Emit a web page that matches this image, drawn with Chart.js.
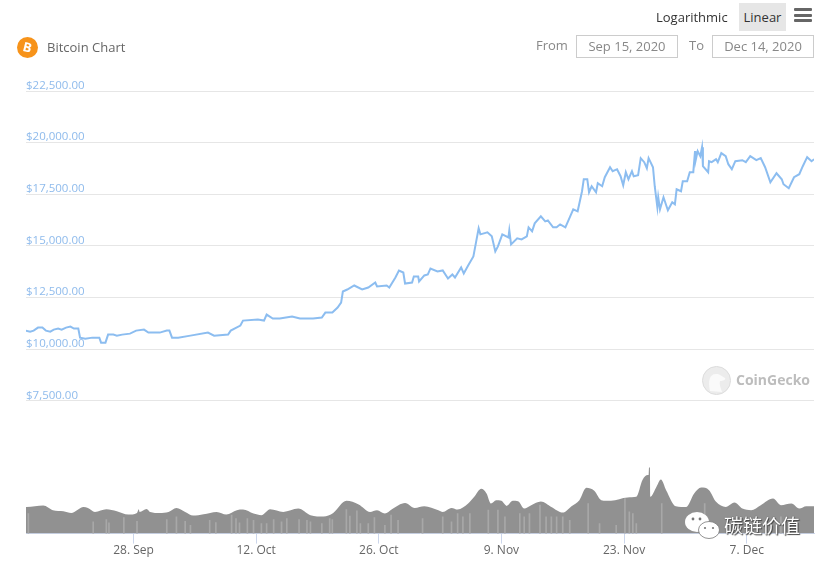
<!DOCTYPE html>
<html lang="en">
<head>
  <meta charset="UTF-8" />
  <title>Bitcoin Chart</title>
  <script src="https://cdn.jsdelivr.net/npm/chart.js"></script>
  <style>
    html, body { margin: 0; padding: 0; background: #fff; }
    body { width: 830px; height: 562px; position: relative; overflow: hidden; font-family: "Open Sans", sans-serif; }
    #chartBox { position: absolute; left: 0; top: 0; width: 830px; height: 562px; }
    .lbl { position: absolute; white-space: nowrap; font-size: 13px; line-height: 18px; }
    .dateBox { position: absolute; top: 35px; height: 21px; width: 100px; border: 1px solid #ccc; color: #888; font-size: 13px; line-height: 21px; text-align: center; }
    #linearBtn { position: absolute; left: 739px; top: 3px; width: 47px; height: 28px; background: #e6e6e6; color: #333; font-size: 13px; line-height: 28px; text-align: center; }
    .bar { position: absolute; left: 794px; width: 18px; height: 3.4px; background: #666; border-radius: 1px; }
    #btcIcon { position: absolute; left: 17px; top: 37px; width: 21px; height: 21px; border-radius: 50%; background: #f7931a; color: #fff; font: bold 13px/21px "Open Sans", sans-serif; text-align: center; }
    #btcIcon span { display: inline-block; transform: rotate(14deg); }
    #geckoIcon { position: absolute; left: 702px; top: 366px; }
    #geckoText { position: absolute; left: 736px; top: 370px; color: #bdbdbd; font: bold 14px/20px "Open Sans", sans-serif; }
    #wmText { position: absolute; left: 724px; top: 512px; color: #fff; font: 19px/26px "Noto Sans CJK SC", sans-serif; text-shadow: 0 0 1px #333, 1px 1px 1px #444; }
    #wmIcon { position: absolute; left: 684px; top: 511px; }
  </style>
</head>
<body>
  <div id="chartBox"><canvas id="btcChart" width="830" height="562"></canvas></div>

  <div class="lbl" style="left:656px;top:8px;color:#333;">Logarithmic</div>
  <div id="linearBtn">Linear</div>
  <div class="bar" style="top:8px;"></div>
  <div class="bar" style="top:13.5px;"></div>
  <div class="bar" style="top:19px;"></div>

  <div id="btcIcon"><span>B</span></div>
  <div class="lbl" style="left:47px;top:38px;color:#666;">Bitcoin Chart</div>
  <div class="lbl" style="left:536px;top:36px;color:#888;">From</div>
  <div class="dateBox" style="left:576px;">Sep 15, 2020</div>
  <div class="lbl" style="left:689px;top:36px;color:#888;">To</div>
  <div class="dateBox" style="left:712px;">Dec 14, 2020</div>

  <svg id="geckoIcon" width="29" height="29" viewBox="0 0 29 29">
    <circle cx="14.5" cy="14.5" r="14" fill="#ececec" stroke="#dcdcdc" />
    <path d="M8 25 C6 16 7 8 14 8 C18 8 19 10 23 12 C24 14 21 15 18 15 C17 19 19 22 20 26 Z" fill="#fafafa" />
  </svg>
  <div id="geckoText">CoinGecko</div>

  <svg id="wmIcon" width="38" height="30" viewBox="0 0 38 30">
    <ellipse cx="13" cy="11" rx="12" ry="10" fill="#fff" />
    <ellipse cx="25" cy="19" rx="10.5" ry="8.5" fill="#fff" stroke="#777" stroke-width="0.8" />
    <circle cx="9" cy="8" r="1.4" fill="#777" /><circle cx="16" cy="8" r="1.4" fill="#777" />
    <circle cx="21" cy="17" r="1.1" fill="#777" /><circle cx="29" cy="17" r="1.1" fill="#777" />
  </svg>
  <div id="wmText">碳链价值</div>

  <script>
    // days counted from 15 Sep 2020
    const tickDays = [13, 27, 41, 55, 69, 83];
    const tickLabels = ['28. Sep', '12. Oct', '26. Oct', '9. Nov', '23. Nov', '7. Dec'];
    const priceTicks = [7500, 10000, 12500, 15000, 17500, 20000, 22500];

    const priceDays = [
      0.7, 1.2, 1.6, 2.1, 2.6, 3.0, 3.5, 3.9, 4.4, 4.8,
      5.3, 5.8, 6.2, 6.7, 6.9, 7.5, 8.3, 9.1, 9.3, 9.8,
      10.1, 10.7, 11.1, 11.7, 12.6, 13.3, 14.2, 14.7, 15.5, 16.0,
      16.8, 17.1, 17.4, 18.1, 19.5, 21.5, 22.2, 23.8, 24.1, 25.2,
      25.5, 27.2, 27.9, 28.2, 28.9, 29.7, 31.1, 32.0, 33.5, 34.5,
      34.9, 35.7, 36.3, 36.7, 36.9, 37.4, 38.2, 39.1, 39.8, 40.6,
      40.8, 41.9, 42.2, 42.9, 43.3, 43.8, 44.0, 44.8, 45.0, 45.5,
      45.6, 46.2, 46.6, 46.9, 47.7, 48.3, 48.9, 49.4, 49.7, 50.4,
      50.7, 51.2, 51.8, 52.1, 52.4, 52.6, 53.4, 53.9, 54.3, 54.6,
      55.1, 55.8, 55.9, 56.1, 56.8, 57.3, 57.9, 58.1, 58.5, 58.8,
      59.5, 60.0, 60.3, 60.9, 61.3, 61.7, 62.3, 62.8, 63.2, 63.7,
      64.2, 64.4, 64.8, 65.0, 65.3, 65.8, 66.0, 66.5, 66.8, 67.4,
      67.7, 68.2, 68.6, 68.9, 69.2, 69.5, 69.9, 70.1, 70.6, 70.9,
      71.3, 71.6, 71.8, 72.3, 72.5, 72.8, 72.9, 73.1, 73.5, 74.0,
      74.5, 74.8, 75.0, 75.5, 75.7, 76.2, 76.5, 76.9, 77.1, 77.2,
      77.4, 77.7, 77.9, 78.0, 78.6, 78.7, 79.0, 79.5, 79.7, 80.1,
      80.6, 80.9, 81.3, 81.7, 82.5, 82.9, 83.4, 84.1, 84.6, 85.1,
      85.7, 86.4, 87.0, 87.2, 87.8, 88.4, 89.0, 89.4, 89.9, 90.4,
      90.7
    ];
    const priceValues = [
      10898, 10849, 10898, 11044, 11044, 10898, 10849, 10947, 10995, 10947,
      11044, 11092, 10995, 10995, 10558, 10510, 10558, 10558, 10315, 10315,
      10704, 10704, 10655, 10704, 10752, 10898, 10947, 10801, 10801, 10801,
      10898, 10898, 10558, 10558, 10655, 10801, 10655, 10704, 10898, 11141,
      11383, 11432, 11383, 11675, 11480, 11480, 11578, 11480, 11480, 11529,
      11772, 11772, 12014, 12257, 12791, 12888, 13082, 12888, 12985, 13228,
      13034, 13082, 12985, 13471, 13810, 13713, 13179, 13228, 13519, 13519,
      13276, 13568, 13616, 13907, 13762, 13810, 13422, 13616, 13471, 13956,
      13665, 14053, 14490, 15170, 15849, 15558, 15655, 15461, 14733, 14975,
      15558, 15412, 15752, 15073, 15364, 15315, 15461, 15898, 15704, 16092,
      16431, 16189, 16237, 15898, 15898, 16043, 15898, 16383, 16771, 16674,
      17645, 18228, 18228, 17597, 17888, 17597, 18033, 17888, 18325, 18810,
      18616, 18713, 18373, 17936, 18568, 18228, 18616, 18373, 18422, 19247,
      19053, 18762, 19247, 18810, 17888, 16868, 17354, 16771, 17354, 16723,
      17111, 17014, 17742, 17645, 18130, 18130, 18568, 18568, 19587, 19199,
      19587, 19344, 19781, 18859, 18568, 19101, 19053, 19199, 19053, 19490,
      19344, 18956, 18713, 19101, 19150, 19053, 19344, 19150, 19247, 18810,
      18082, 18519, 18228, 17985, 17791, 18325, 18470, 18859, 19296, 19101,
      19199
    ];

    // volume in billions of USD
    const volumeDays = [0.7, 0.8, 2.7, 3.8, 5.0, 5.9, 7.3, 7.8, 8.6, 9.9, 11.1, 12.4, 13.4, 13.6, 13.7, 14.5, 14.9, 16.0, 17.0, 17.9, 18.9, 19.8, 21.0, 22.5, 23.6, 24.8, 25.5, 26.7, 27.6, 28.6, 30.1, 31.8, 33.2, 34.7, 35.8, 37.3, 38.7, 40.0, 40.8, 41.7, 42.5, 44.0, 45.1, 46.2, 47.8, 48.3, 49.3, 50.0, 51.2, 51.9, 52.7, 53.3, 53.8, 54.4, 55.0, 55.6, 56.3, 56.9, 57.6, 58.4, 59.5, 60.7, 62.0, 63.0, 63.9, 64.7, 65.6, 66.4, 67.5, 69.4, 70.4, 71.1, 71.7, 71.8, 71.85, 71.95, 72.0, 72.7, 73.2, 73.8, 74.9, 76.1, 77.0, 77.8, 78.7, 79.5, 80.6, 81.6, 82.5, 83.5, 84.6, 86.0, 86.9, 88.1, 89.0, 89.8, 90.7];
    const volumeValues = [37.3, 37.3, 39.2, 32.7, 31.3, 28.9, 37.3, 35.9, 30.3, 34.1, 31.3, 26.6, 28.9, 34.1, 30.3, 34.5, 30.3, 28.9, 30.3, 35.9, 30.3, 25.2, 27.1, 30.3, 26.6, 32.7, 33.6, 28.0, 25.7, 34.1, 30.3, 35.0, 25.7, 23.8, 28.9, 45.7, 40.6, 30.3, 32.7, 28.0, 34.1, 42.9, 35.9, 38.3, 32.7, 30.3, 35.9, 33.6, 42.0, 51.3, 62.5, 56.0, 42.0, 46.7, 45.7, 38.7, 45.7, 45.3, 35.0, 39.7, 44.8, 37.3, 29.4, 38.3, 46.7, 63.9, 59.7, 46.7, 45.7, 50.4, 51.3, 74.7, 81.7, 81.7, 92.4, 92.4, 51.3, 65.3, 75.6, 60.7, 38.3, 37.3, 56.0, 64.4, 60.7, 44.3, 37.3, 43.4, 35.0, 32.7, 39.7, 49.0, 39.7, 42.0, 35.0, 38.3, 38.3];

    // the paler thin columns showing through the volume area
    const paleDays = [1.0, 8.4, 9.9, 10.2, 11.9, 13.4, 16.8, 17.9, 18.9, 19.5, 21.7, 22.4, 24.2, 24.7, 25.1, 26.0, 26.7, 27.6, 28.2, 29.0, 29.9, 30.5, 31.9, 32.8, 33.2, 34.5, 35.4, 35.7, 37.3, 37.7, 38.5, 38.9, 39.8, 40.5, 41.7, 42.4, 43.2, 46.0, 48.3, 49.3, 50.0, 50.6, 51.4, 53.5, 54.6, 55.4, 57.1, 57.6, 58.2, 59.4, 60.1, 60.7, 61.3, 62.0, 62.8, 64.9, 66.2, 68.1, 69.1, 69.6, 70.0, 70.4, 73.3, 78.2, 86.9];
    const paleValues = [28.0, 16.3, 19.6, 14.9, 22.4, 17.3, 19.6, 23.3, 17.3, 11.7, 18.7, 15.4, 25.7, 21.0, 14.9, 21.0, 18.7, 14.0, 14.0, 19.6, 16.3, 21.0, 19.6, 18.7, 16.3, 14.0, 21.0, 19.6, 33.6, 24.3, 31.7, 14.0, 14.0, 22.4, 11.7, 25.7, 18.7, 21.0, 23.3, 16.3, 28.0, 23.3, 28.0, 32.7, 32.7, 23.3, 28.0, 23.3, 28.0, 39.7, 23.3, 23.3, 23.3, 23.3, 18.7, 42.0, 14.0, 11.7, 49.0, 30.3, 28.0, 14.0, 42.0, 42.0, 23.3];

    const zip = (xs, ys) => xs.map((x, i) => ({ x: x, y: ys[i] }));

    new Chart(document.getElementById('btcChart').getContext('2d'), {
      data: {
        datasets: [
          {
            type: 'line',
            label: 'Price',
            data: zip(priceDays, priceValues),
            yAxisID: 'y',
            borderColor: '#8cbdf0',
            borderWidth: 2,
            pointRadius: 0,
            tension: 0
          },
          {
            type: 'bar',
            label: 'Volume detail',
            data: zip(paleDays, paleValues),
            yAxisID: 'vol',
            backgroundColor: '#a8a8a8',
            barThickness: 1,
            order: -1
          },
          {
            type: 'line',
            label: 'Volume',
            data: zip(volumeDays, volumeValues),
            yAxisID: 'vol',
            borderWidth: 0,
            backgroundColor: '#919191',
            fill: 'origin',
            pointRadius: 0,
            cubicInterpolationMode: 'monotone'
          }
        ]
      },
      options: {
        responsive: false,
        animation: false,
        layout: { padding: { left: 26, right: 16, top: 91, bottom: 4 } },
        plugins: { legend: { display: false }, tooltip: { enabled: false } },
        scales: {
          x: {
            type: 'linear',
            offset: false,
            min: 0.73,
            max: 90.68,
            afterBuildTicks: axis => { axis.ticks = tickDays.map(v => ({ value: v })); },
            border: { color: '#ccd6eb' },
            grid: { offset: false, drawOnChartArea: false, drawTicks: true, tickLength: 10, tickColor: '#ccd6eb' },
            ticks: {
              autoSkip: false,
              maxRotation: 0,
              padding: 0,
              color: '#666',
              font: { family: 'Open Sans', size: 12 },
              callback: v => tickLabels[tickDays.indexOf(v)]
            }
          },
          y: {
            position: 'left',
            min: 1069,
            max: 22500,
            afterBuildTicks: axis => { axis.ticks = priceTicks.map(v => ({ value: v })); },
            border: { display: false },
            grid: { color: '#e6e6e6', drawTicks: false },
            ticks: {
              mirror: true,
              padding: 0,
              labelOffset: -5.5,
              color: '#8fbbec',
              font: { family: 'Open Sans', size: 11.5 },
              callback: v => '$' + v.toLocaleString('en-US', { minimumFractionDigits: 2 })
            }
          },
          vol: {
            display: false,
            min: 0,
            max: 618
          }
        }
      }
    });
  </script>
</body>
</html>
